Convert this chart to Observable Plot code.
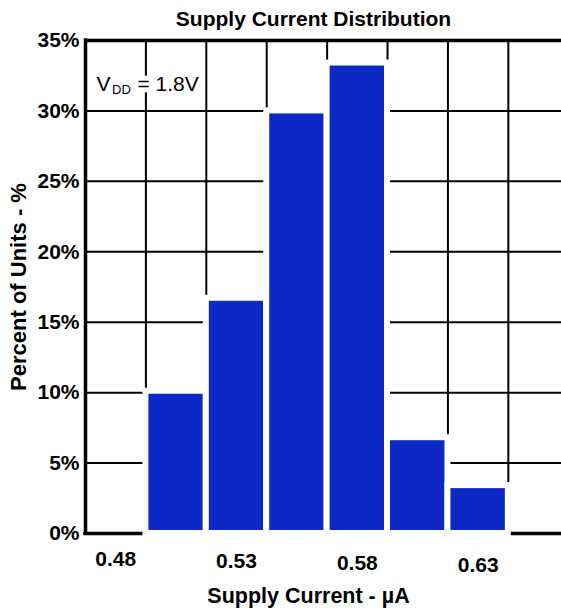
<!DOCTYPE html>
<html>
<head>
<meta charset="utf-8">
<script src="https://cdn.jsdelivr.net/npm/d3@7"></script>
<script src="https://cdn.jsdelivr.net/npm/@observablehq/plot@0.6"></script>
<style>
  html, body { margin: 0; padding: 0; background: #fff; }
</style>
</head>
<body>
<div id="chart"></div>
<script>
// ---- data ----
const binCenters = [0.505, 0.53, 0.555, 0.58, 0.605, 0.63];   // supply current bin centres (µA)
const binWidth = 0.025;
const percentUnits = [10.1, 16.7, 30.0, 33.4, 6.8, 3.4];      // percent of units
const xTickValues = [0.48, 0.53, 0.58, 0.63];
const xTickLabels = ["0.48", "0.53", "0.58", "0.63"];
const yTickValues = [0, 5, 10, 15, 20, 25, 30, 35];
const yTickLabels = ["0%", "5%", "10%", "15%", "20%", "25%", "30%", "35%"];
const chartTitle = "Supply Current Distribution";
const xTitle = "Supply Current - µA";
const yTitle = "Percent of Units - %";
const noteMain = "V";
const noteSub = "DD";
const noteRest = "= 1.8V";

// ---- derived ----
const bars = binCenters.map((c, i) => ({x1: c - binWidth / 2, x2: c + binWidth / 2, pct: percentUnits[i]}));
const gridX = bars.map(b => b.x1).concat([bars[bars.length - 1].x2]);
const xDomain = [gridX[0] - binWidth, 0.6645];
const yMax = yTickValues[yTickValues.length - 1];
const gridY = yTickValues.slice(1, -1);

const FONT = "'Liberation Sans', Arial, Helvetica, sans-serif";
const BLUE = "#0c29c6";

const tickLabelMarks = xTickValues.map((v, i) =>
  Plot.text([v], {
    x: d => d,
    text: () => xTickLabels[i],
    frameAnchor: "bottom",
    lineAnchor: "middle",
    dy: 26 + 2 * i,
    fontSize: 21,
    fontWeight: "bold",
    fill: "#000"
  })
);

const noteStyle = {frameAnchor: "top-left", textAnchor: "start", lineAnchor: "bottom",
  fontWeight: "normal", fill: "#000", stroke: "#fff", strokeWidth: 10};

const svg = Plot.plot({
  width: 561,
  height: 608,
  marginTop: 40,
  marginLeft: 85,
  marginRight: 0,
  marginBottom: 75,
  style: {fontFamily: FONT, fontSize: "21px", fontWeight: "bold", color: "#000", background: "#fff"},
  x: {domain: xDomain, axis: null},
  y: {domain: [0, yMax], axis: null},
  marks: [
    Plot.ruleX(gridX, {x: d => d, y1: 0, y2: yMax, stroke: "#000", strokeWidth: 2}),
    Plot.ruleY(gridY, {y: d => d, stroke: "#000", strokeWidth: 2}),
    Plot.ruleY([yMax], {y: d => d, stroke: "#000", strokeWidth: 3.5}),
    Plot.ruleX([xDomain[0]], {x: d => d, y1: 0, y2: yMax, stroke: "#000", strokeWidth: 3.5, strokeLinecap: "square"}),
    Plot.ruleY([0], {y: d => d, stroke: "#000", strokeWidth: 3.5, strokeLinecap: "square"}),
    Plot.rect(bars, {x1: "x1", x2: "x2", y1: 0, y2: "pct", fill: BLUE, stroke: "#fff", strokeWidth: 6}),
    Plot.axisY({
      ticks: yTickValues,
      tickFormat: (d) => yTickLabels[yTickValues.indexOf(d)],
      tickSize: 0,
      tickPadding: 6,
      label: null,
      fontSize: 21,
      fontWeight: "bold"
    }),
    ...tickLabelMarks,
    Plot.text([chartTitle], {frameAnchor: "top", lineAnchor: "middle", dx: -10, dy: -21, fontSize: 21, fontWeight: "bold"}),
    Plot.text([xTitle], {frameAnchor: "bottom", lineAnchor: "middle", dx: -15, dy: 63, fontSize: 21.5, fontWeight: "bold"}),
    Plot.text([yTitle], {frameAnchor: "left", textAnchor: "middle", lineAnchor: "middle", dx: -67, rotate: -90, fontSize: 22, fontWeight: "bold"}),
    Plot.text([noteMain], {...noteStyle, dx: 11, dy: 50, fontSize: 21}),
    Plot.text([noteSub], {...noteStyle, dx: 26.5, dy: 53, fontSize: 13}),
    Plot.text([noteRest], {...noteStyle, dx: 52, dy: 50, fontSize: 21})
  ]
});

document.getElementById("chart").appendChild(svg);
</script>
</body>
</html>
